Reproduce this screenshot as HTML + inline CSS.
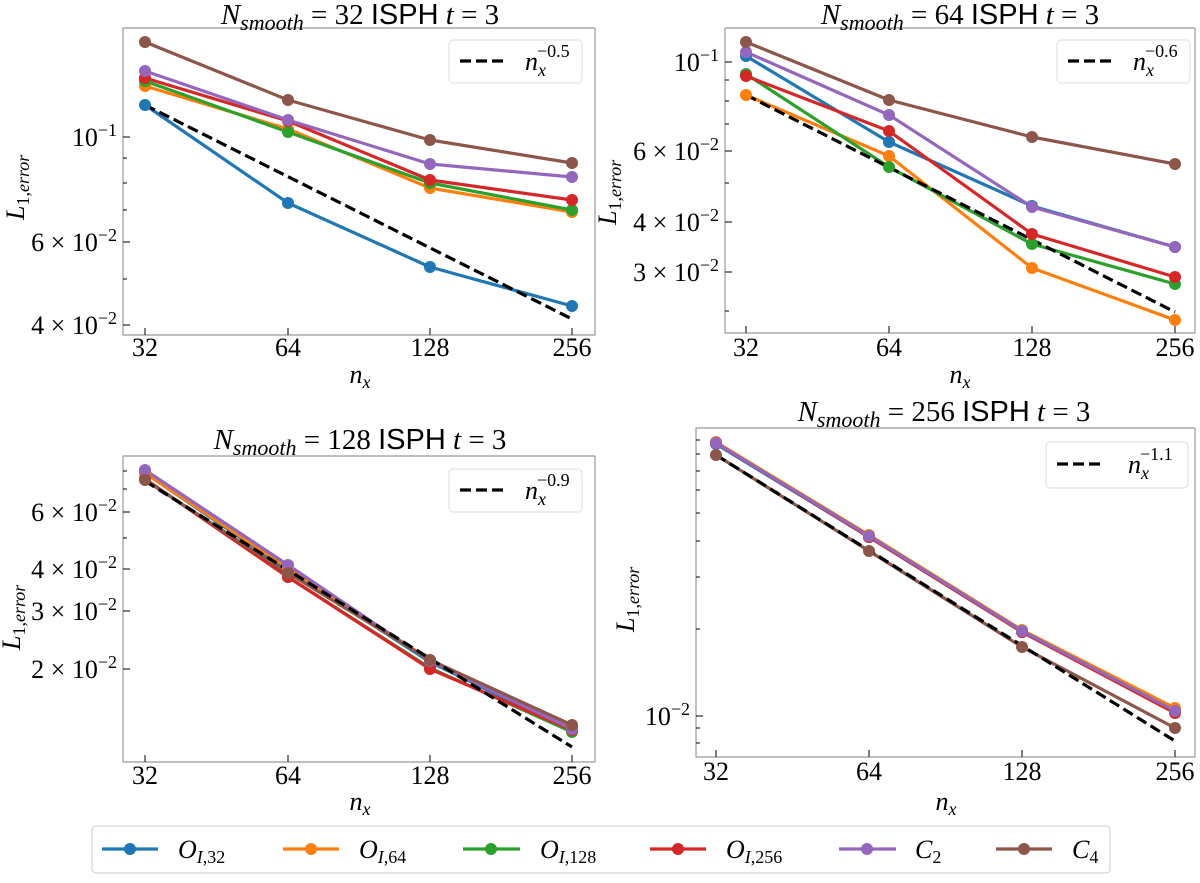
<!DOCTYPE html>
<html><head><meta charset="utf-8"><style>
body{margin:0;background:#fff;}
svg text{font-family:"Liberation Serif",serif;fill:#000;}
.t{font-size:26px;}
.ti{font-size:29px;}
.s{font-family:"Liberation Sans",sans-serif;}
</style></head><body>
<svg width="1200" height="878" viewBox="0 0 1200 878" xmlns="http://www.w3.org/2000/svg">
<g fill="none" stroke-width="3.2" stroke-linejoin="round">

<!-- Panel 1 -->
<rect x="123" y="28" width="472" height="307" stroke="#999" stroke-width="1.2"/>
<g stroke="#000" stroke-width="1">
<path d="M145 335v-7M288 335v-7M430 335v-7M572 335v-7"/>
<path d="M123 137h7M123 242h7M123 325h7"/>
<path d="M123 158h4M123 183h4M123 210h4M123 279h4"/>
</g>
<polyline stroke="#1f77b4" points="145,105 288,203 430,267 572,306"/>
<polyline stroke="#ff7f0e" points="145,86 288,129 430,188 572,212"/>
<polyline stroke="#2ca02c" points="145,81 288,132 430,183 572,210"/>
<polyline stroke="#d62728" points="145,78 288,121 430,180 572,200"/>
<polyline stroke="#9467bd" points="145,71 288,120 430,164 572,177"/>
<polyline stroke="#8c564b" points="145,42 288,100 430,140 572,163"/>
<line x1="145" y1="105" x2="572" y2="319" stroke="#000" stroke-dasharray="11,5"/>

<!-- Panel 2 -->
<rect x="725" y="28" width="470" height="305" stroke="#999" stroke-width="1.2"/>
<g stroke="#000" stroke-width="1">
<path d="M746 333v-7M889 333v-7M1032 333v-7M1175 333v-7"/>
<path d="M725 62h7M725 151h7M725 222h7M725 272h7"/>
<path d="M725 80h4M725 101h4M725 124h4M725 183h4M725 311h4"/>
</g>
<polyline stroke="#1f77b4" points="746,56 889,142 1032,206 1175,247"/>
<polyline stroke="#ff7f0e" points="746,95 889,156 1032,268 1175,320"/>
<polyline stroke="#2ca02c" points="746,74 889,167 1032,244 1175,284"/>
<polyline stroke="#d62728" points="746,76 889,131 1032,234 1175,277"/>
<polyline stroke="#9467bd" points="746,52 889,115 1032,207 1175,247"/>
<polyline stroke="#8c564b" points="746,42 889,100 1032,137 1175,164"/>
<line x1="746" y1="95" x2="1175" y2="312" stroke="#000" stroke-dasharray="11,5"/>

<!-- Panel 3 -->
<rect x="123" y="456" width="472" height="306" stroke="#999" stroke-width="1.2"/>
<g stroke="#000" stroke-width="1">
<path d="M145 762v-7M288 762v-7M430 762v-7M572 762v-7"/>
<path d="M123 512h7M123 569h7M123 611h7M123 669h7"/>
<path d="M123 471h4M123 489h4M123 538h4"/>
</g>
<polyline stroke="#1f77b4" points="145,473 288,570 430,662 572,731"/>
<polyline stroke="#ff7f0e" points="145,473 288,568 430,660 572,727"/>
<polyline stroke="#2ca02c" points="145,479 288,577 430,668 572,732"/>
<polyline stroke="#d62728" points="145,479 288,577 430,669 572,730"/>
<polyline stroke="#9467bd" points="145,470 288,565 430,661 572,729"/>
<polyline stroke="#8c564b" points="145,480 288,573 430,660 572,725"/>
<line x1="145" y1="481" x2="572" y2="747" stroke="#000" stroke-dasharray="11,5"/>

<!-- Panel 4 -->
<rect x="696" y="428" width="499" height="329" stroke="#999" stroke-width="1.2"/>
<g stroke="#000" stroke-width="1">
<path d="M716 757v-7M869 757v-7M1022 757v-7M1175 757v-7"/>
<path d="M696 716h7"/>
<path d="M696 728h4M696 743h4M696 629h4M696 577h4M696 541h4M696 513h4M696 490h4M696 471h4M696 454h4M696 440h4"/>
</g>
<polyline stroke="#1f77b4" points="716,444 869,537 1022,632 1175,712"/>
<polyline stroke="#ff7f0e" points="716,442 869,535 1022,630 1175,708"/>
<polyline stroke="#2ca02c" points="716,443 869,536 1022,631 1175,711"/>
<polyline stroke="#d62728" points="716,443 869,537 1022,632 1175,713"/>
<polyline stroke="#9467bd" points="716,443 869,536 1022,631 1175,711"/>
<polyline stroke="#8c564b" points="716,455 869,551 1022,647 1175,728"/>
<line x1="716" y1="455" x2="1175" y2="741" stroke="#000" stroke-dasharray="11,5"/>
</g>

<!-- markers -->
<g fill="#1f77b4"><circle cx="145" cy="105" r="6"/><circle cx="288" cy="203" r="6"/><circle cx="430" cy="267" r="6"/><circle cx="572" cy="306" r="6"/>
<circle cx="746" cy="56" r="6"/><circle cx="889" cy="142" r="6"/><circle cx="1032" cy="206" r="6"/><circle cx="1175" cy="247" r="6"/>
<circle cx="145" cy="473" r="6"/><circle cx="288" cy="570" r="6"/><circle cx="430" cy="662" r="6"/><circle cx="572" cy="731" r="6"/>
<circle cx="716" cy="444" r="6"/><circle cx="869" cy="537" r="6"/><circle cx="1022" cy="632" r="6"/><circle cx="1175" cy="712" r="6"/></g>
<g fill="#ff7f0e"><circle cx="145" cy="86" r="6"/><circle cx="288" cy="129" r="6"/><circle cx="430" cy="188" r="6"/><circle cx="572" cy="212" r="6"/>
<circle cx="746" cy="95" r="6"/><circle cx="889" cy="156" r="6"/><circle cx="1032" cy="268" r="6"/><circle cx="1175" cy="320" r="6"/>
<circle cx="145" cy="473" r="6"/><circle cx="288" cy="568" r="6"/><circle cx="430" cy="660" r="6"/><circle cx="572" cy="727" r="6"/>
<circle cx="716" cy="442" r="6"/><circle cx="869" cy="535" r="6"/><circle cx="1022" cy="630" r="6"/><circle cx="1175" cy="708" r="6"/></g>
<g fill="#2ca02c"><circle cx="145" cy="81" r="6"/><circle cx="288" cy="132" r="6"/><circle cx="430" cy="183" r="6"/><circle cx="572" cy="210" r="6"/>
<circle cx="746" cy="74" r="6"/><circle cx="889" cy="167" r="6"/><circle cx="1032" cy="244" r="6"/><circle cx="1175" cy="284" r="6"/>
<circle cx="145" cy="479" r="6"/><circle cx="288" cy="577" r="6"/><circle cx="430" cy="668" r="6"/><circle cx="572" cy="732" r="6"/>
<circle cx="716" cy="443" r="6"/><circle cx="869" cy="536" r="6"/><circle cx="1022" cy="631" r="6"/><circle cx="1175" cy="711" r="6"/></g>
<g fill="#d62728"><circle cx="145" cy="78" r="6"/><circle cx="288" cy="121" r="6"/><circle cx="430" cy="180" r="6"/><circle cx="572" cy="200" r="6"/>
<circle cx="746" cy="76" r="6"/><circle cx="889" cy="131" r="6"/><circle cx="1032" cy="234" r="6"/><circle cx="1175" cy="277" r="6"/>
<circle cx="145" cy="479" r="6"/><circle cx="288" cy="577" r="6"/><circle cx="430" cy="669" r="6"/><circle cx="572" cy="730" r="6"/>
<circle cx="716" cy="443" r="6"/><circle cx="869" cy="537" r="6"/><circle cx="1022" cy="632" r="6"/><circle cx="1175" cy="713" r="6"/></g>
<g fill="#9467bd"><circle cx="145" cy="71" r="6"/><circle cx="288" cy="120" r="6"/><circle cx="430" cy="164" r="6"/><circle cx="572" cy="177" r="6"/>
<circle cx="746" cy="52" r="6"/><circle cx="889" cy="115" r="6"/><circle cx="1032" cy="207" r="6"/><circle cx="1175" cy="247" r="6"/>
<circle cx="145" cy="470" r="6"/><circle cx="288" cy="565" r="6"/><circle cx="430" cy="661" r="6"/><circle cx="572" cy="729" r="6"/>
<circle cx="716" cy="443" r="6"/><circle cx="869" cy="536" r="6"/><circle cx="1022" cy="631" r="6"/><circle cx="1175" cy="711" r="6"/></g>
<g fill="#8c564b"><circle cx="145" cy="42" r="6"/><circle cx="288" cy="100" r="6"/><circle cx="430" cy="140" r="6"/><circle cx="572" cy="163" r="6"/>
<circle cx="746" cy="42" r="6"/><circle cx="889" cy="100" r="6"/><circle cx="1032" cy="137" r="6"/><circle cx="1175" cy="164" r="6"/>
<circle cx="145" cy="480" r="6"/><circle cx="288" cy="573" r="6"/><circle cx="430" cy="660" r="6"/><circle cx="572" cy="725" r="6"/>
<circle cx="716" cy="455" r="6"/><circle cx="869" cy="551" r="6"/><circle cx="1022" cy="647" r="6"/><circle cx="1175" cy="728" r="6"/></g>

<!-- Inner legends -->
<g fill="#fff" stroke="#ddd" stroke-width="1">
<rect x="449" y="40" width="133" height="43" rx="4"/>
<rect x="1057" y="40" width="133" height="43" rx="4"/>
<rect x="449" y="469" width="133" height="43" rx="4"/>
<rect x="1046" y="442" width="142" height="46" rx="4"/>
</g>
<g stroke="#000" stroke-width="3.2" stroke-dasharray="11,5">
<path d="M460 61h48M1068 61h48M460 490h48M1057 464h48"/>
</g>
<g class="t">
<text x="525" y="70" font-style="italic">n<tspan font-size="18" dy="6">x</tspan><tspan font-size="18" font-style="normal" dx="-9" dy="-19">−0.5</tspan></text>
<text x="1133" y="70" font-style="italic">n<tspan font-size="18" dy="6">x</tspan><tspan font-size="18" font-style="normal" dx="-9" dy="-19">−0.6</tspan></text>
<text x="525" y="499" font-style="italic">n<tspan font-size="18" dy="6">x</tspan><tspan font-size="18" font-style="normal" dx="-9" dy="-19">−0.9</tspan></text>
<text x="1128" y="473" font-style="italic">n<tspan font-size="18" dy="6">x</tspan><tspan font-size="18" font-style="normal" dx="-9" dy="-19">−1.1</tspan></text>
</g>

<!-- Titles -->
<g class="ti" text-anchor="middle">
<text x="360" y="24"><tspan font-style="italic">N</tspan><tspan font-style="italic" font-size="22" dy="6">smooth</tspan><tspan dy="-6"> = 32 </tspan><tspan class="s">ISPH</tspan> <tspan font-style="italic">t</tspan> = 3</text>
<text x="960" y="24"><tspan font-style="italic">N</tspan><tspan font-style="italic" font-size="22" dy="6">smooth</tspan><tspan dy="-6"> = 64 </tspan><tspan class="s">ISPH</tspan> <tspan font-style="italic">t</tspan> = 3</text>
<text x="360" y="449"><tspan font-style="italic">N</tspan><tspan font-style="italic" font-size="22" dy="6">smooth</tspan><tspan dy="-6"> = 128 </tspan><tspan class="s">ISPH</tspan> <tspan font-style="italic">t</tspan> = 3</text>
<text x="944" y="421"><tspan font-style="italic">N</tspan><tspan font-style="italic" font-size="22" dy="6">smooth</tspan><tspan dy="-6"> = 256 </tspan><tspan class="s">ISPH</tspan> <tspan font-style="italic">t</tspan> = 3</text>
</g>

<!-- X tick labels -->
<g class="t" text-anchor="middle">
<text x="145" y="356">32</text><text x="288" y="356">64</text><text x="430" y="356">128</text><text x="572" y="356">256</text>
<text x="746" y="356">32</text><text x="889" y="356">64</text><text x="1032" y="356">128</text><text x="1175" y="356">256</text>
<text x="145" y="784">32</text><text x="288" y="784">64</text><text x="430" y="784">128</text><text x="572" y="784">256</text>
<text x="716" y="780">32</text><text x="869" y="780">64</text><text x="1022" y="780">128</text><text x="1175" y="780">256</text>
<text x="360" y="383" font-style="italic">n<tspan font-size="18" dy="5">x</tspan></text>
<text x="960" y="383" font-style="italic">n<tspan font-size="18" dy="5">x</tspan></text>
<text x="360" y="810" font-style="italic">n<tspan font-size="18" dy="5">x</tspan></text>
<text x="946" y="810" font-style="italic">n<tspan font-size="18" dy="5">x</tspan></text>
</g>

<!-- Y tick labels -->
<g class="t" text-anchor="end">
<text x="117" y="146">10<tspan font-size="18" dy="-10">−1</tspan></text>
<text x="117" y="251">6 × 10<tspan font-size="18" dy="-10">−2</tspan></text>
<text x="117" y="334">4 × 10<tspan font-size="18" dy="-10">−2</tspan></text>
<text x="719" y="71">10<tspan font-size="18" dy="-10">−1</tspan></text>
<text x="719" y="160">6 × 10<tspan font-size="18" dy="-10">−2</tspan></text>
<text x="719" y="231">4 × 10<tspan font-size="18" dy="-10">−2</tspan></text>
<text x="719" y="281">3 × 10<tspan font-size="18" dy="-10">−2</tspan></text>
<text x="117" y="521">6 × 10<tspan font-size="18" dy="-10">−2</tspan></text>
<text x="117" y="578">4 × 10<tspan font-size="18" dy="-10">−2</tspan></text>
<text x="117" y="620">3 × 10<tspan font-size="18" dy="-10">−2</tspan></text>
<text x="117" y="678">2 × 10<tspan font-size="18" dy="-10">−2</tspan></text>
<text x="690" y="725">10<tspan font-size="18" dy="-10">−2</tspan></text>
</g>

<!-- Y axis labels -->
<g class="t" font-style="italic">
<text transform="translate(24,220) rotate(-90)">L<tspan font-size="18" dy="5" font-style="normal">1,</tspan><tspan font-size="18">error</tspan></text>
<text transform="translate(616,225) rotate(-90)">L<tspan font-size="18" dy="5" font-style="normal">1,</tspan><tspan font-size="18">error</tspan></text>
<text transform="translate(20,650) rotate(-90)">L<tspan font-size="18" dy="5" font-style="normal">1,</tspan><tspan font-size="18">error</tspan></text>
<text transform="translate(634,632) rotate(-90)">L<tspan font-size="18" dy="5" font-style="normal">1,</tspan><tspan font-size="18">error</tspan></text>
</g>

<!-- Bottom legend -->
<rect x="92" y="826" width="1018" height="47" rx="4" fill="#fff" stroke="#ccc" stroke-width="1"/>
<g stroke-width="3.2">
<path d="M102 849h56" stroke="#1f77b4"/><circle cx="130" cy="849" r="6" fill="#1f77b4"/>
<path d="M283 849h56" stroke="#ff7f0e"/><circle cx="311" cy="849" r="6" fill="#ff7f0e"/>
<path d="M463 849h57" stroke="#2ca02c"/><circle cx="491" cy="849" r="6" fill="#2ca02c"/>
<path d="M650 849h56" stroke="#d62728"/><circle cx="678" cy="849" r="6" fill="#d62728"/>
<path d="M839 849h57" stroke="#9467bd"/><circle cx="867" cy="849" r="6" fill="#9467bd"/>
<path d="M996 849h56" stroke="#8c564b"/><circle cx="1024" cy="849" r="6" fill="#8c564b"/>
</g>
<g class="t" font-style="italic">
<text x="178" y="858">O<tspan font-size="18" dy="5">I</tspan><tspan font-size="18" font-style="normal">,32</tspan></text>
<text x="359" y="858">O<tspan font-size="18" dy="5">I</tspan><tspan font-size="18" font-style="normal">,64</tspan></text>
<text x="540" y="858">O<tspan font-size="18" dy="5">I</tspan><tspan font-size="18" font-style="normal">,128</tspan></text>
<text x="726" y="858">O<tspan font-size="18" dy="5">I</tspan><tspan font-size="18" font-style="normal">,256</tspan></text>
<text x="915" y="858">C<tspan font-size="18" dy="5" font-style="normal">2</tspan></text>
<text x="1072" y="858">C<tspan font-size="18" dy="5" font-style="normal">4</tspan></text>
</g>
</svg>
</body></html>
